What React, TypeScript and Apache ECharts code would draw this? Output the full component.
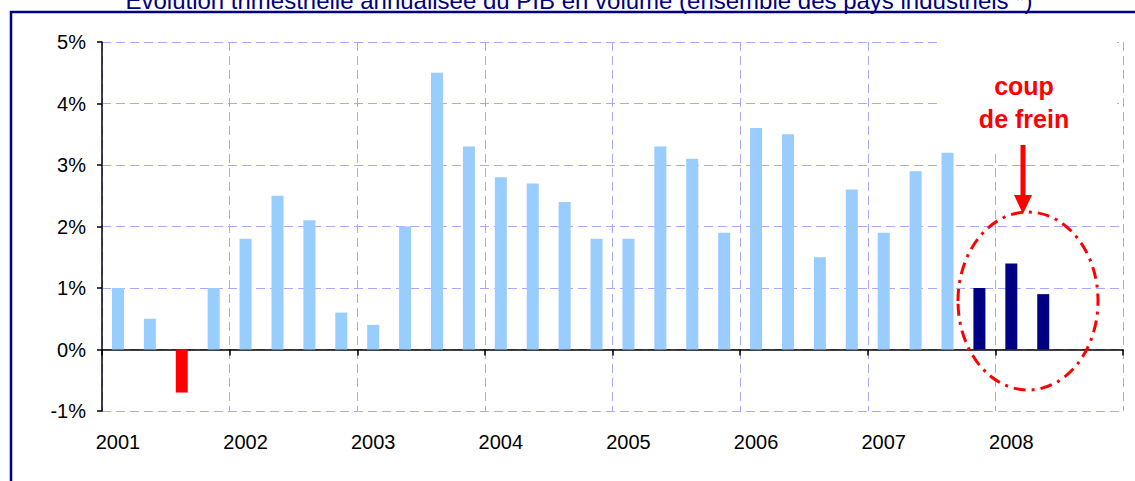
import React, { useEffect, useRef } from "react";
import * as echarts from "echarts";

const years = ["2001", "2002", "2003", "2004", "2005", "2006", "2007", "2008"];
const quarters = ["T1", "T2", "T3", "T4"];
const categories = years.flatMap((y) => quarters.map((q) => `${y} ${q}`));

// Croissance trimestrielle annualisée (%)
const growth = [
  1.0, 0.5, -0.7, 1.0,
  1.8, 2.5, 2.1, 0.6,
  0.4, 2.0, 4.5, 3.3,
  2.8, 2.7, 2.4, 1.8,
  1.8, 3.3, 3.1, 1.9,
  3.6, 3.5, 1.5, 2.6,
  1.9, 2.9, 3.2, 1.0,
  1.4, 0.9,
];
const slowdownQuarters = ["2007 T4", "2008 T1", "2008 T2"];
const yTicks = [-1, 0, 1, 2, 3, 4, 5];

const title =
  "Evolution trimestrielle annualisée du PIB en volume (ensemble des pays industriels *)";
const annotation = "coup\nde frein";

const LIGHT = "#99CCFF";
const NAVY = "#000080";
const RED = "#FF0000";
const GRIDC = "#A8A8FF";

export default function App() {
  const ref = useRef<HTMLDivElement>(null);
  useEffect(() => {
    if (!ref.current) return;
    const chart = echarts.init(ref.current, undefined, { renderer: "svg" });
    const data = growth.map((v, i) => ({
      value: v,
      itemStyle: {
        color: v < 0 ? RED : slowdownQuarters.includes(categories[i]) ? NAVY : LIGHT,
      },
    }));
    chart.setOption({
      animation: false,
      backgroundColor: "#ffffff",
      grid: {
        left: 102,
        right: 12,
        top: 42,
        bottom: 70,
        containLabel: false,
        outerBoundsMode: "none",
      },
      xAxis: {
        type: "category",
        data: categories,
        boundaryGap: true,
        axisLine: { onZero: true, lineStyle: { color: "#000", width: 1.5 } },
        axisTick: { show: true, interval: 3, length: 6, lineStyle: { color: "#000", width: 1.5 } },
        axisLabel: {
          interval: 3,
          margin: 21,
          color: "#000",
          fontSize: 20,
          fontFamily: "Liberation Sans, Arial, sans-serif",
          formatter: (v: string) => v.split(" ")[0],
        },
        splitLine: {
          show: true,
          interval: 3,
          lineStyle: { color: GRIDC, type: [9, 5], width: 1 },
        },
      },
      yAxis: {
        type: "value",
        min: yTicks[0],
        max: yTicks[yTicks.length - 1],
        interval: 1,
        axisLine: { show: true, lineStyle: { color: "#000", width: 1.5 } },
        axisTick: { show: true, length: 5, lineStyle: { color: "#000", width: 1.5 } },
        axisLabel: {
          margin: 16,
          color: "#000",
          fontSize: 20,
          fontFamily: "Liberation Sans, Arial, sans-serif",
          formatter: (v: number) => `${v}%`,
        },
        splitLine: { show: true, lineStyle: { color: GRIDC, type: [9, 5], width: 1 } },
      },
      series: [
        {
          type: "bar",
          data,
          barWidth: 12,
          z: 3,
        },
      ],
      graphic: [
        {
          type: "text",
          x: 579,
          y: 12,
          z: 20,
          style: {
            text: title,
            fill: NAVY,
            font: '24px "Liberation Sans", Arial, sans-serif',
            textAlign: "center",
            textVerticalAlign: "bottom",
          },
        },
        {
          type: "polyline",
          z: 21,
          shape: { points: [[1135, 12], [11, 12], [11, 481]] },
          style: { stroke: NAVY, lineWidth: 2.5, fill: "none" },
        },
        {
          type: "rect",
          z: 10,
          shape: { x: 937, y: 30, width: 180, height: 120 },
          style: { fill: "#ffffff" },
        },
        {
          type: "text",
          x: 1024,
          y: 69,
          z: 11,
          style: {
            text: annotation,
            fill: RED,
            font: 'bold 25px "Liberation Sans", Arial, sans-serif',
            textAlign: "center",
            lineHeight: 33,
          },
        },
        {
          type: "line",
          z: 11,
          shape: { x1: 1023, y1: 145, x2: 1023, y2: 198 },
          style: { stroke: RED, lineWidth: 5 },
        },
        {
          type: "polygon",
          z: 11,
          shape: { points: [[1014, 195], [1032, 195], [1023, 214]] },
          style: { fill: RED },
        },
        {
          type: "ellipse",
          z: 11,
          shape: { cx: 1028, cy: 301, rx: 70, ry: 89 },
          style: { fill: "none", stroke: RED, lineWidth: 3, lineDash: [12, 6, 3, 6] },
        },
      ],
    });
    return () => chart.dispose();
  }, []);
  return (
    <div
      ref={ref}
      style={{ position: "fixed", left: 0, top: 0, width: 1135, height: 481, background: "#fff" }}
    />
  );
}
